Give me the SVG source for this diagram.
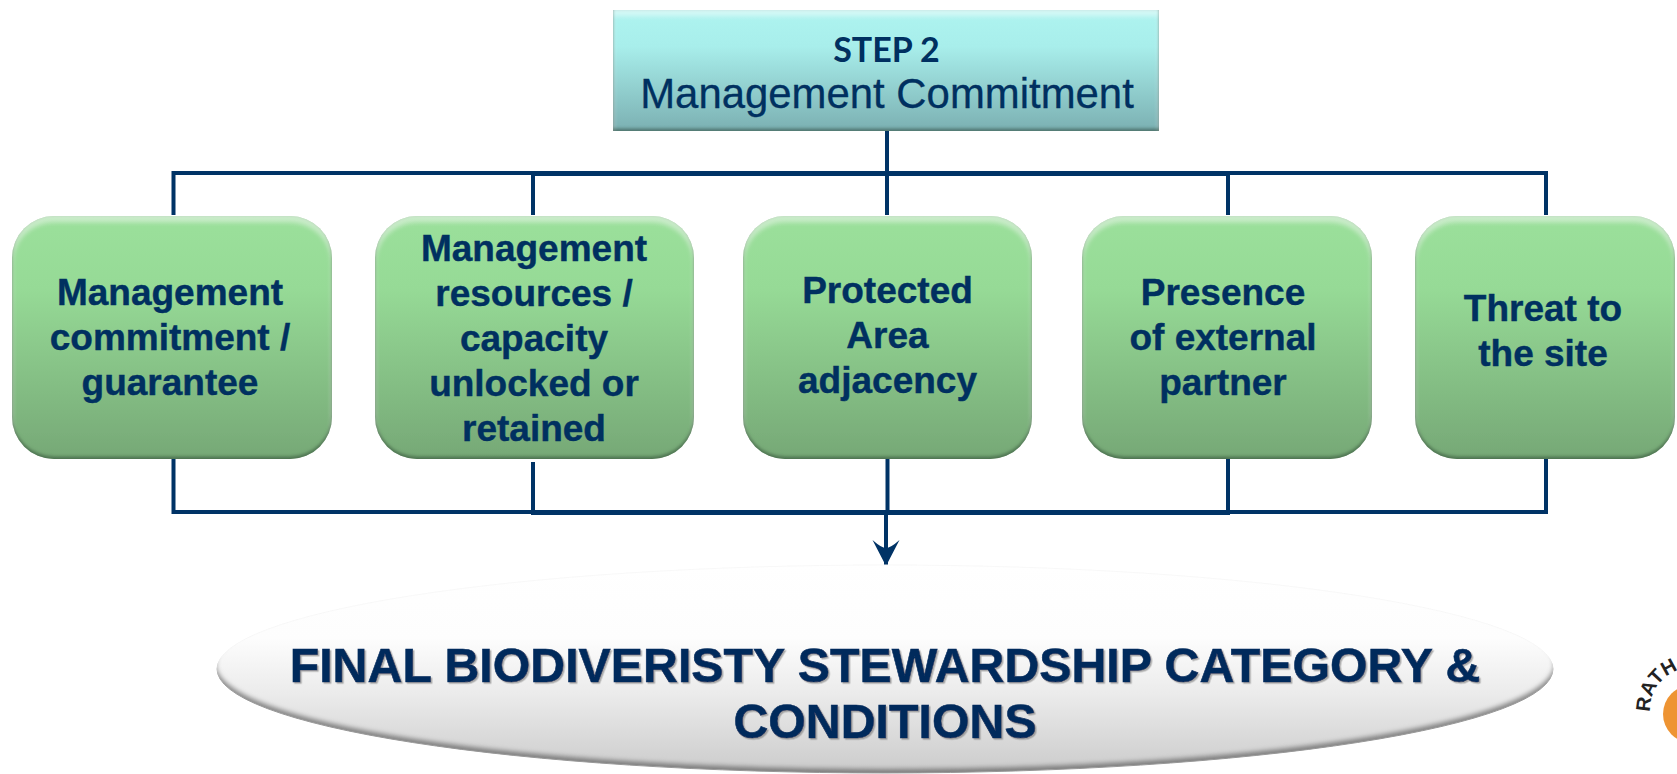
<svg xmlns="http://www.w3.org/2000/svg" width="1677" height="774" viewBox="0 0 1677 774">
<style>
text{font-family:"Liberation Sans",Arial,sans-serif;fill:#003060;text-anchor:middle}
.card{font-size:37px;font-weight:700;stroke:#003060;stroke-width:.4px}
.card-shape{fill:url(#green);filter:url(#bevel)}
.link{fill:none;stroke:#003366;stroke-width:4}
.title{font-size:48.3px;font-weight:700;fill:#002a5c;stroke:#002a5c;stroke-width:.6px;filter:url(#shadow)}
</style>
<defs>
<linearGradient id="green" x1="0" y1="0" x2="0" y2="1"><stop offset="0" stop-color="#9be09b"/><stop offset=".3" stop-color="#96da96"/><stop offset="1" stop-color="#76a876"/></linearGradient>
<linearGradient id="teal" x1="0" y1="0" x2="0" y2="1"><stop offset="0" stop-color="#aef4f0"/><stop offset=".3" stop-color="#a8eeeb"/><stop offset="1" stop-color="#7bb0b2"/></linearGradient>
<linearGradient id="grey" x1="0" y1="0" x2="0" y2="1"><stop offset="0" stop-color="#ffffff"/><stop offset=".35" stop-color="#fdfdfd"/><stop offset=".62" stop-color="#ebebeb"/><stop offset="1" stop-color="#cbcbcb"/></linearGradient>
<filter id="bevel" x="-5%" y="-5%" width="110%" height="110%">
<feGaussianBlur in="SourceAlpha" stdDeviation="2.500" result="b"/>
<feOffset in="b" dy="6" result="o1"/><feComposite in="SourceAlpha" in2="o1" operator="out" result="t"/>
<feFlood flood-color="#ffffff" flood-opacity=".4"/><feComposite in2="t" operator="in" result="light"/>
<feGaussianBlur in="SourceAlpha" stdDeviation="1.500" result="b2"/>
<feOffset in="b2" dy="-3" result="o2"/><feComposite in="SourceAlpha" in2="o2" operator="out" result="d"/>
<feFlood flood-color="#33503a" flood-opacity=".6"/><feComposite in2="d" operator="in" result="dark"/>
<feComposite in="SourceAlpha" in2="b2" operator="out" result="e"/>
<feFlood flood-color="#33503a" flood-opacity=".45"/><feComposite in2="e" operator="in" result="edge"/>
<feMerge><feMergeNode in="SourceGraphic"/><feMergeNode in="edge"/><feMergeNode in="light"/><feMergeNode in="dark"/></feMerge>
</filter>
<filter id="bevelGrey" x="-2%" y="-5%" width="104%" height="110%">
<feGaussianBlur in="SourceAlpha" stdDeviation="2" result="b"/>
<feOffset in="b" dy="-5" result="o2"/><feComposite in="SourceAlpha" in2="o2" operator="out" result="d"/>
<feFlood flood-color="#555" flood-opacity=".75"/><feComposite in2="d" operator="in" result="dark"/>
<feMerge><feMergeNode in="SourceGraphic"/><feMergeNode in="dark"/></feMerge>
</filter>
<filter id="shadow" x="-5%" y="-20%" width="110%" height="140%"><feDropShadow dx="1.500" dy="1.500" stdDeviation=".6" flood-color="#777" flood-opacity=".6"/></filter>
<marker id="arrow" markerUnits="userSpaceOnUse" markerWidth="30" markerHeight="30" refX="26" refY="13.5" orient="auto" viewBox="0 0 30 27"><path d="M0 0 L26 13.5 L0 27 Q8 18 8 13.500 Q8 9 0 0 Z" fill="#003366"/></marker>
</defs>
<rect width="1677" height="774" fill="#fff"/>
<g id="connectors">
<path class="link" d="M887 130V215"/>
<path class="link" d="M173.500 215V173H1546V215"/>
<path class="link" d="M533 215V174H1228V215"/>
<path class="link" d="M173.500 458V512H1546V458"/>
<path class="link" d="M533 462V513H1228V458"/>
<path class="link" d="M887.500 458V512"/>
<path class="link" d="M886 512V566" marker-end="url(#arrow)"/>
</g>
<g id="step2">
<rect x="613" y="10" width="546" height="121" fill="url(#teal)" filter="url(#bevel)"/>
<text x="886.500" y="62" font-size="34" style="font-family:Lato,'Liberation Sans',sans-serif;font-weight:700">STEP 2</text>
<text x="887" y="108" font-size="41.900" stroke="#003060" stroke-width=".3">Management Commitment</text>
</g>
<g id="card1"><rect class="card-shape" x="12" y="216" width="320" height="243" rx="42"/>
<text class="card" x="170" y="305">Management</text><text class="card" x="170" y="350">commitment /</text><text class="card" x="170" y="395">guarantee</text></g>
<g id="card2"><rect class="card-shape" x="375" y="216" width="319" height="243" rx="42"/>
<text class="card" x="534" y="261">Management</text><text class="card" x="534" y="306">resources /</text><text class="card" x="534" y="351">capacity</text><text class="card" x="534" y="396">unlocked or</text><text class="card" x="534" y="441">retained</text></g>
<g id="card3"><rect class="card-shape" x="743" y="216" width="289" height="243" rx="42"/>
<text class="card" x="887.500" y="303">Protected</text><text class="card" x="887.500" y="348">Area</text><text class="card" x="887.500" y="393">adjacency</text></g>
<g id="card4"><rect class="card-shape" x="1082" y="216" width="290" height="243" rx="42"/>
<text class="card" x="1223" y="305">Presence</text><text class="card" x="1223" y="350">of external</text><text class="card" x="1223" y="395">partner</text></g>
<g id="card5"><rect class="card-shape" x="1415" y="216" width="260" height="243" rx="42"/>
<text class="card" x="1543" y="321">Threat to</text><text class="card" x="1543" y="366">the site</text></g>
<g id="final">
<ellipse cx="885" cy="669" rx="668" ry="104" fill="url(#grey)" stroke="#f8f8f8" stroke-width="1" filter="url(#bevelGrey)"/>
<text class="title" x="885" y="682">FINAL BIODIVERISTY STEWARDSHIP CATEGORY &amp;</text>
<text class="title" x="885" y="738">CONDITIONS</text>
</g>
<g id="logo">
<circle cx="1692" cy="714" r="29" fill="#ee9433"/>
<path id="arc" d="M1650 712A42 42 0 0 1 1692 668" fill="none"/>
<text font-size="20" font-weight="700" style="fill:#222;text-anchor:start"><textPath href="#arc" startOffset="0">RATH</textPath></text>
</g>
</svg>
